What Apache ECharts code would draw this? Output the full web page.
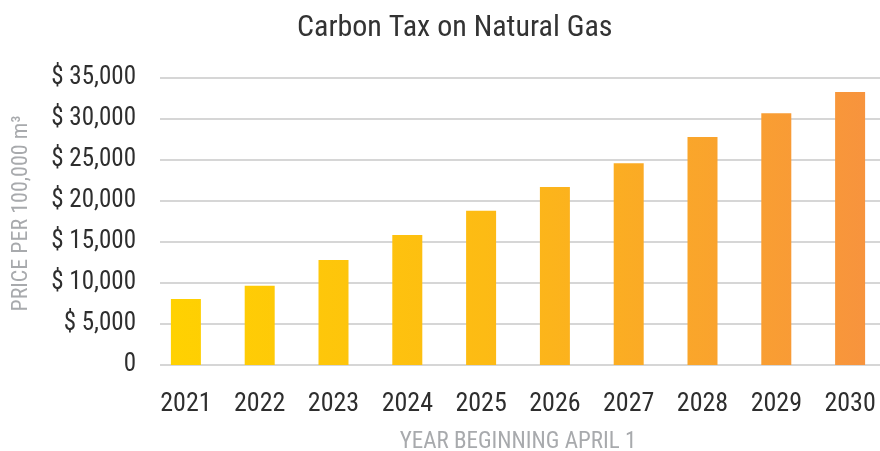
<!DOCTYPE html>
<html>
<head>
<meta charset="utf-8">
<script src="https://cdn.jsdelivr.net/npm/echarts@6/dist/echarts.min.js"></script>
<style>
html,body{margin:0;padding:0;background:#fff;}
#chart{width:880px;height:451px;}
</style>
</head>
<body>
<div id="chart"></div>
<script>
var categories = ['2021','2022','2023','2024','2025','2026','2027','2028','2029','2030'];
var values = [8050, 9650, 12800, 15850, 18800, 21700, 24600, 27800, 30700, 33300];
var yTickLabels = ['0','$ 5,000','$ 10,000','$ 15,000','$ 20,000','$ 25,000','$ 30,000','$ 35,000'];
var titleText = 'Carbon Tax on Natural Gas';
var yAxisTitle = 'PRICE PER 100,000 m\u00B3';
var xAxisTitle = 'YEAR BEGINNING APRIL 1';

var FONT = "'Liberation Sans Narrow', 'Arial Narrow', 'Roboto Condensed', sans-serif";
var chart = echarts.init(document.getElementById('chart'));
var option = {
  animation: false,
  backgroundColor: '#ffffff',
  title: {
    text: titleText,
    left: 292, top: 8,
    textStyle: {fontFamily: FONT, fontSize: 30, fontWeight: 'normal', color: '#333333'}
  },
  grid: [
    {left: 160, right: 0, top: 78, bottom: 86, outerBoundsMode: 'none', containLabel: false},
    {left: 149, width: 738, top: 78, bottom: 86, outerBoundsMode: 'none', containLabel: false}
  ],
  xAxis: [
    {type: 'category', gridIndex: 0, data: categories, show: false},
    {type: 'category', gridIndex: 1, data: categories,
     axisLine: {show: false}, axisTick: {show: false},
     axisLabel: {fontFamily: FONT, fontSize: 26, color: '#2e2e2e', margin: 26},
     name: xAxisTitle, nameLocation: 'middle', nameGap: 66,
     nameTextStyle: {fontFamily: FONT, fontSize: 23, color: '#a8aaad'}}
  ],
  yAxis: [
    {type: 'value', gridIndex: 0, min: 0, max: 35000, interval: 5000,
     axisLine: {show: false}, axisTick: {show: false},
     splitLine: {lineStyle: {color: '#c9c9c9', width: 1.5}},
     axisLabel: {fontFamily: FONT, fontSize: 25, color: '#2e2e2e', margin: 24,
       formatter: function (v) { return yTickLabels[Math.round(v / 5000)]; }},
     name: yAxisTitle, nameLocation: 'middle', nameGap: 128, nameRotate: 90,
     nameTextStyle: {fontFamily: FONT, fontSize: 22, color: '#a8aaad', padding: [0, 0, 0, 16]}},
    {type: 'value', gridIndex: 1, min: 0, max: 35000, interval: 5000, show: false, splitLine: {show: false}}
  ],
  series: [{
    type: 'bar', xAxisIndex: 1, yAxisIndex: 1,
    data: values, barWidth: 30,
    itemStyle: {
      color: {type: 'linear', x: 160, y: 0, x2: 880, y2: 0, global: true,
        colorStops: [{offset: 0, color: '#ffd200'}, {offset: 0.45, color: '#fdbb14'}, {offset: 1, color: '#f7923f'}]}
    }
  }]
};
chart.setOption(option);
</script>
</body>
</html>
